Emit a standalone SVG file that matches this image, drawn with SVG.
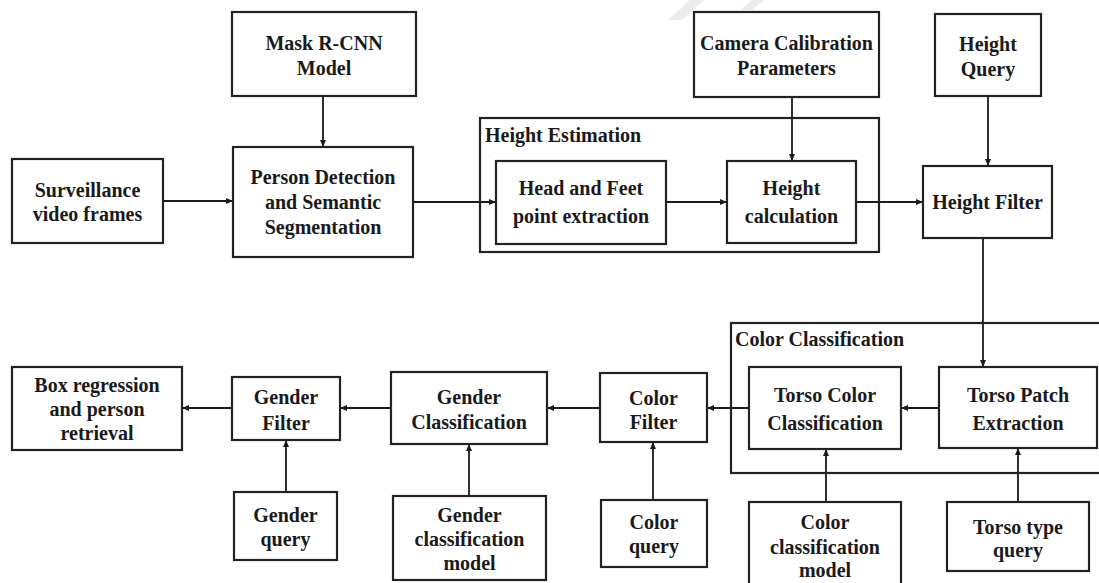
<svg xmlns="http://www.w3.org/2000/svg" width="1099" height="583" viewBox="0 0 1099 583">
<style>
.box{fill:#fff;stroke:#222;stroke-width:2.2}
.grp{fill:none;stroke:#222;stroke-width:2.2}
.t{font-family:"Liberation Serif","Times New Roman",serif;font-weight:bold;font-size:20px;fill:#1a1a1a;text-anchor:middle}
.gt{font-family:"Liberation Serif","Times New Roman",serif;font-weight:bold;font-size:20px;fill:#1a1a1a}
.c{fill:none;stroke:#1a1a1a;stroke-width:1.8;marker-end:url(#ah)}
.wm{fill:#ececec}
</style>
<defs>
<marker id="ah" markerUnits="userSpaceOnUse" markerWidth="8" markerHeight="8" refX="7" refY="4" orient="auto">
<path d="M0,1 L7,4 L0,7 Z" fill="#1a1a1a"/>
</marker>
</defs>
<rect width="1099" height="583" fill="#fff"/>
<g id="watermark">
<polygon class="wm" points="668,20 682,20 704,0 690,0"/>
<polygon class="wm" points="740,10 752,10 764,0 752,0"/>
</g>
<g id="connectors">
<line class="c" x1="163" y1="201" x2="233" y2="201"/>
<line class="c" x1="323" y1="96" x2="323" y2="147"/>
<line class="c" x1="413" y1="202" x2="496" y2="202"/>
<line class="c" x1="666" y1="202" x2="727" y2="202"/>
<line class="c" x1="792" y1="97" x2="792" y2="161"/>
<line class="c" x1="856" y1="202" x2="923" y2="202"/>
<line class="c" x1="988" y1="96" x2="988" y2="166"/>
<line class="c" x1="983" y1="238" x2="983" y2="367"/>
<line class="c" x1="939" y1="408" x2="901" y2="408"/>
<line class="c" x1="749" y1="408" x2="707" y2="408"/>
<line class="c" x1="600" y1="408" x2="547" y2="408"/>
<line class="c" x1="391" y1="408" x2="340" y2="408"/>
<line class="c" x1="232" y1="408" x2="182" y2="408"/>
<line class="c" x1="286" y1="492" x2="286" y2="440"/>
<line class="c" x1="469" y1="496" x2="469" y2="444"/>
<line class="c" x1="653" y1="500" x2="653" y2="442"/>
<line class="c" x1="826" y1="502" x2="826" y2="449"/>
<line class="c" x1="1018" y1="502" x2="1018" y2="448"/>
</g>
<g id="height-estimation">
<rect class="grp" x="480" y="118" width="399" height="134"/>
<text class="gt" x="485" y="142">Height Estimation</text>
</g>
<g id="color-classification">
<rect class="grp" x="731" y="323" width="390" height="150"/>
<text class="gt" x="735" y="346">Color Classification</text>
</g>
<g id="surveillance">
<rect class="box" x="12" y="159" width="151" height="84"/>
<text class="t" x="87.5" y="197">Surveillance</text>
<text class="t" x="87.5" y="221">video frames</text>
</g>
<g id="mask-rcnn">
<rect class="box" x="232" y="12" width="184" height="84"/>
<text class="t" x="324" y="50">Mask R-CNN</text>
<text class="t" x="324" y="75">Model</text>
</g>
<g id="person-detection">
<rect class="box" x="233" y="147" width="180" height="110"/>
<text class="t" x="323" y="184">Person Detection</text>
<text class="t" x="323" y="209">and Semantic</text>
<text class="t" x="323" y="234">Segmentation</text>
</g>
<g id="head-feet">
<rect class="box" x="496" y="161" width="170" height="83"/>
<text class="t" x="581" y="195">Head and Feet</text>
<text class="t" x="581" y="223">point extraction</text>
</g>
<g id="height-calc">
<rect class="box" x="727" y="161" width="129" height="82"/>
<text class="t" x="791.5" y="195">Height</text>
<text class="t" x="791.5" y="223">calculation</text>
</g>
<g id="camera-calibration">
<rect class="box" x="694" y="12" width="185" height="85"/>
<text class="t" x="786.5" y="50">Camera Calibration</text>
<text class="t" x="786.5" y="75">Parameters</text>
</g>
<g id="height-query">
<rect class="box" x="935" y="14" width="106" height="82"/>
<text class="t" x="988" y="51">Height</text>
<text class="t" x="988" y="76">Query</text>
</g>
<g id="height-filter">
<rect class="box" x="923" y="166" width="129" height="72"/>
<text class="t" x="987.5" y="209">Height Filter</text>
</g>
<g id="torso-patch">
<rect class="box" x="939" y="367" width="158" height="81"/>
<text class="t" x="1018" y="402">Torso Patch</text>
<text class="t" x="1018" y="430">Extraction</text>
</g>
<g id="torso-color">
<rect class="box" x="749" y="367" width="152" height="82"/>
<text class="t" x="825" y="402">Torso Color</text>
<text class="t" x="825" y="430">Classification</text>
</g>
<g id="color-filter">
<rect class="box" x="600" y="373" width="107" height="69"/>
<text class="t" x="653.5" y="405">Color</text>
<text class="t" x="653.5" y="429">Filter</text>
</g>
<g id="gender-classification">
<rect class="box" x="391" y="372" width="156" height="72"/>
<text class="t" x="469" y="404">Gender</text>
<text class="t" x="469" y="429">Classification</text>
</g>
<g id="gender-filter">
<rect class="box" x="232" y="377" width="108" height="63"/>
<text class="t" x="286" y="404">Gender</text>
<text class="t" x="286" y="430">Filter</text>
</g>
<g id="box-regression">
<rect class="box" x="12" y="367" width="170" height="83"/>
<text class="t" x="97" y="392">Box regression</text>
<text class="t" x="97" y="416">and person</text>
<text class="t" x="97" y="440">retrieval</text>
</g>
<g id="gender-query">
<rect class="box" x="234" y="492" width="103" height="68"/>
<text class="t" x="285.5" y="522">Gender</text>
<text class="t" x="285.5" y="546">query</text>
</g>
<g id="gender-model">
<rect class="box" x="393" y="496" width="153" height="84"/>
<text class="t" x="469.5" y="522">Gender</text>
<text class="t" x="469.5" y="546">classification</text>
<text class="t" x="469.5" y="570">model</text>
</g>
<g id="color-query">
<rect class="box" x="601" y="500" width="106" height="67"/>
<text class="t" x="654" y="529">Color</text>
<text class="t" x="654" y="553">query</text>
</g>
<g id="color-model">
<rect class="box" x="749" y="502" width="152" height="92"/>
<text class="t" x="825" y="529">Color</text>
<text class="t" x="825" y="554">classification</text>
<text class="t" x="825" y="577">model</text>
</g>
<g id="torso-type-query">
<rect class="box" x="947" y="502" width="142" height="69"/>
<text class="t" x="1018" y="534">Torso type</text>
<text class="t" x="1018" y="557">query</text>
</g>
</svg>
